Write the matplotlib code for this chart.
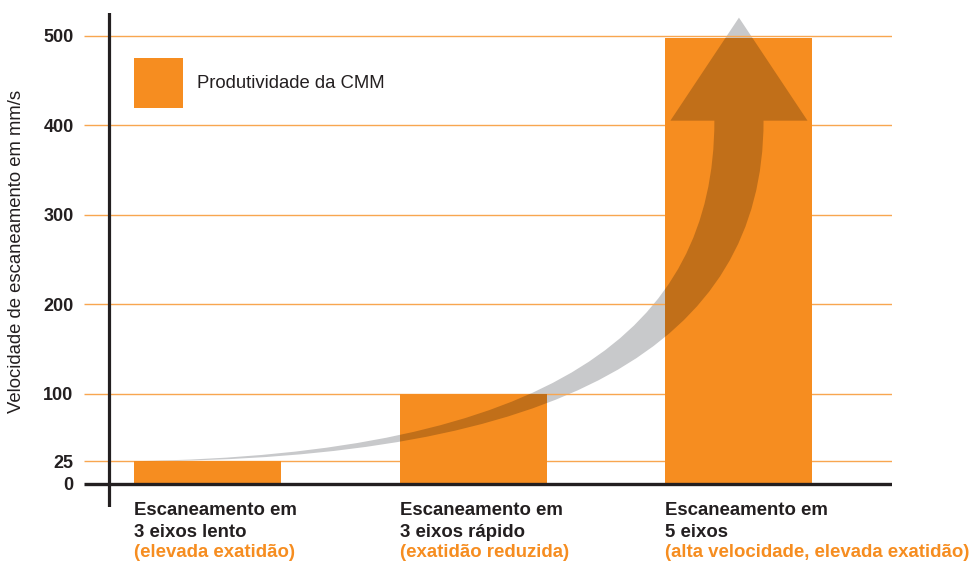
import matplotlib
matplotlib.use('Agg')
import matplotlib.pyplot as plt
from matplotlib.path import Path
from matplotlib.patches import PathPatch
import numpy as np

plt.rcParams['font.family'] = ['Liberation Sans', 'DejaVu Sans']

# dados
categorias = ['Escaneamento em\n3 eixos lento', 'Escaneamento em\n3 eixos rápido', 'Escaneamento em\n5 eixos']
subtitulos = ['(elevada exatidão)', '(exatidão reduzida)', '(alta velocidade, elevada exatidão)']
velocidades = [25, 100, 497]
yticks = [0, 25, 100, 200, 300, 400, 500]
legenda = 'Produtividade da CMM'
ylabel = 'Velocidade de escaneamento em mm/s'

LARANJA = '#f68d20'
GRADE = '#f8a650'
PRETO = '#231f20'
CINZA = '#c8c9cb'
ESCURO = '#c16f19'   # cinza "multiplicado" sobre o laranja

fig = plt.figure(figsize=(9.7, 5.61), dpi=100)
ax = fig.add_axes([0.0866, 0.0963, 0.833, 0.8806])
ax.set_xlim(-0.4647, 2.576)
ax.set_ylim(-26.1, 525.2)
for s in ax.spines.values():
    s.set_visible(False)

x = np.arange(len(categorias))
w = 0.553

# grade
ax.hlines(yticks[1:], -0.4647, 2.576, color=GRADE, lw=1.0, zorder=1.6)

bars = ax.bar(x, velocidades, width=w, color=LARANJA, zorder=2, label=legenda)

# seta curva
x0 = x[0] - w / 2
v0 = velocidades[0]
xc = x[-1]
haste = 0.185
cab = 0.258
base, ponta = 405, 520
verts = [(x0, v0),
         (1.29, v0 + 7), (xc - haste / 2, 171), (xc - haste / 2, base),
         (xc - cab, base), (xc, ponta), (xc + cab, base),
         (xc + haste / 2, base),
         (xc + haste / 2, 155), (1.326, v0), (x0, v0),
         (x0, v0)]
codes = [Path.MOVETO,
         Path.CURVE4, Path.CURVE4, Path.CURVE4,
         Path.LINETO, Path.LINETO, Path.LINETO,
         Path.LINETO,
         Path.CURVE4, Path.CURVE4, Path.CURVE4,
         Path.CLOSEPOLY]
seta = Path(verts, codes)
ax.add_patch(PathPatch(seta, facecolor=CINZA, edgecolor='none', zorder=1.5))
for r in bars.patches:
    p = PathPatch(seta, facecolor=ESCURO, edgecolor='none', zorder=3)
    ax.add_patch(p)
    p.set_clip_path(r)

# eixos
ax.axvline(-0.372, 0, 1, color=PRETO, lw=2.3, zorder=5)
ax.hlines(0, -0.4647, 2.576, color=PRETO, lw=2.4, zorder=5)

ax.set_yticks(yticks)
ax.set_yticklabels([str(t) for t in yticks], fontsize=13, fontweight='bold', color=PRETO)
ax.tick_params(axis='y', length=0, pad=7.5)
ax.set_xticks([])

# rótulos das categorias
fs = 13.4
for i, (c, s) in enumerate(zip(categorias, subtitulos)):
    l1, l2 = c.split('\n')
    xl = x[i] - w / 2
    ax.annotate(l1, (xl, 0), xytext=(0, -22.6), textcoords='offset points',
                fontsize=fs, fontweight='bold', color=PRETO, va='baseline', ha='left', annotation_clip=False)
    ax.annotate(l2, (xl, 0), xytext=(0, -38.2), textcoords='offset points',
                fontsize=fs, fontweight='bold', color=PRETO, va='baseline', ha='left', annotation_clip=False)
    ax.annotate(s, (xl, 0), xytext=(0, -52.6), textcoords='offset points',
                fontsize=fs, fontweight='bold', color=LARANJA, va='baseline', ha='left', annotation_clip=False)

fig.text(17 / 970, 1 - 251 / 561, ylabel, rotation=90, fontsize=13.3, color=PRETO,
         ha='center', va='center')

ax.legend(loc='upper left', bbox_to_anchor=(0.0619, 0.9089), frameon=False,
          fontsize=13.3, handlelength=2.65, handleheight=3.75, handletextpad=0.76,
          borderpad=0, borderaxespad=0, labelcolor=PRETO)

fig.savefig('out.png', dpi=100)
